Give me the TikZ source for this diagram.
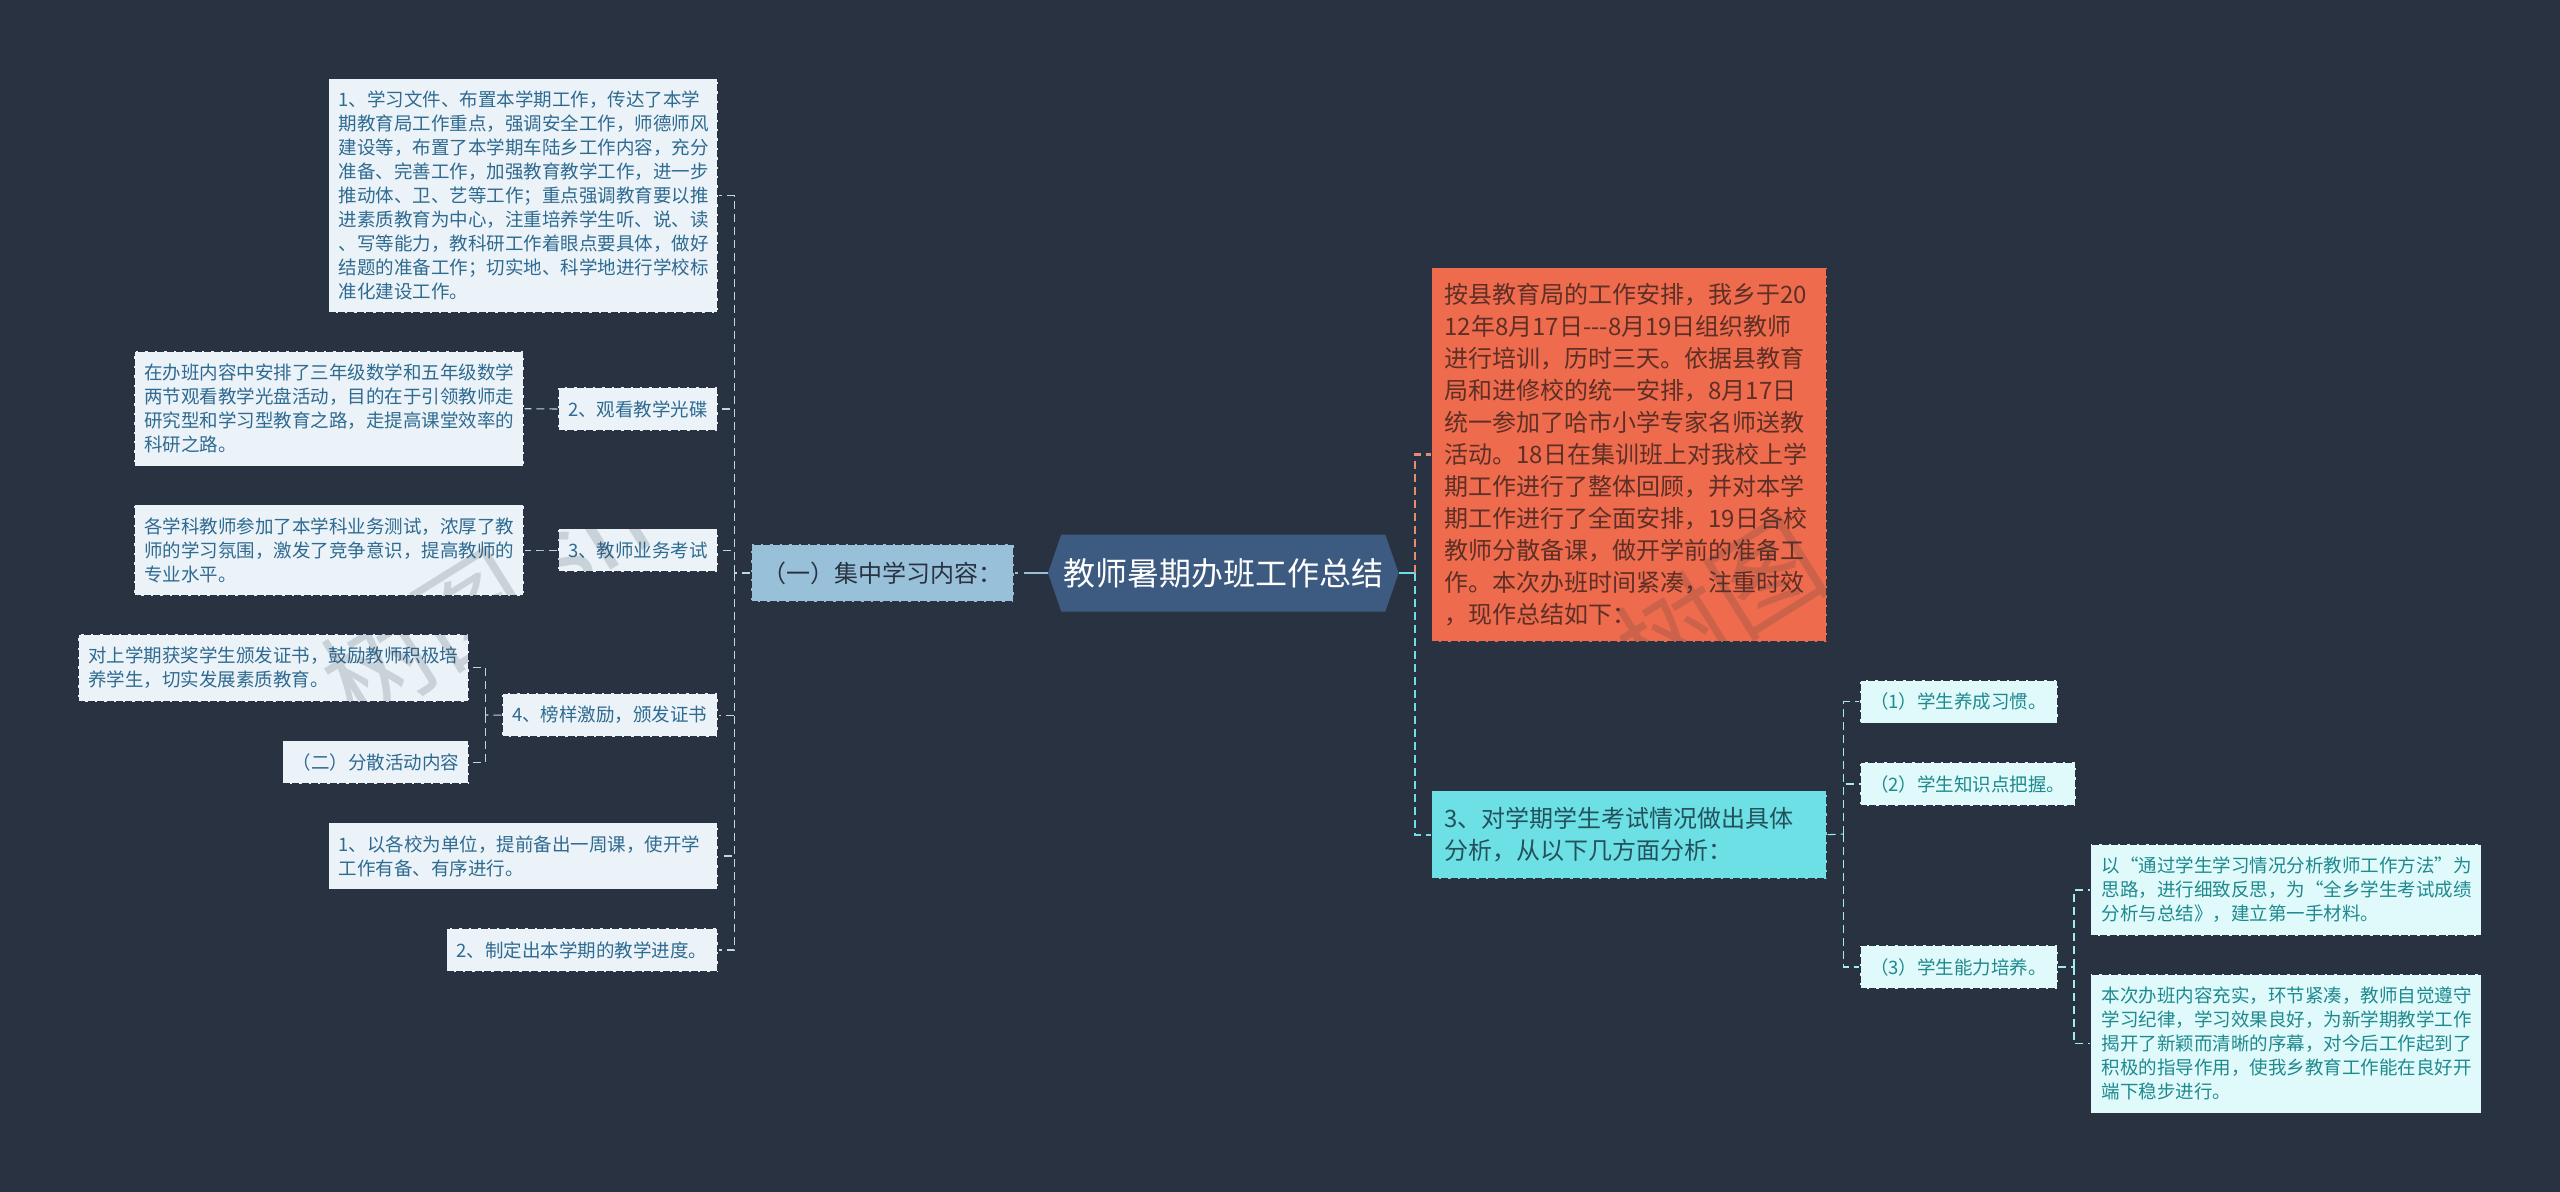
\documentclass[tikz,border=0pt]{standalone}
\usepackage{fontspec}
\usetikzlibrary{shapes.symbols}
\newfontfamily\cjk{Noto Sans CJK SC}
\definecolor{bgc}{HTML}{293241}
\definecolor{navy}{HTML}{3D5A80}
\definecolor{midblue}{HTML}{98C1D9}
\definecolor{pale}{HTML}{EBF3F9}
\definecolor{paletext}{HTML}{2F6A90}
\definecolor{palecy}{HTML}{E0F9FB}
\definecolor{cytext}{HTML}{1E8A8E}
\definecolor{orangeb}{HTML}{EE6C4D}
\definecolor{oranget}{HTML}{5E2F26}
\definecolor{cyanb}{HTML}{6DE0E6}
\definecolor{cyant}{HTML}{24525C}
\definecolor{linel}{HTML}{BBD7E8}
\definecolor{liner}{HTML}{A0ECF0}
\definecolor{lineo}{HTML}{E98B73}
\tikzset{
  boxbase/.style={draw=bgc,line width=0.6pt,dash pattern=on 3.5pt off 1.2pt,inner sep=0pt,align=left},
  smallfont/.style={font=\cjk\fontsize{9.25}{12}\selectfont},
  bigfont/.style={font=\cjk\fontsize{12}{16}\selectfont},
  leafl/.style={boxbase,smallfont,fill=pale,text=paletext},
  leafr/.style={boxbase,smallfont,fill=palecy,text=cytext},
  topl/.style={boxbase,bigfont,fill=midblue,text=bgc},
  topo/.style={boxbase,bigfont,fill=orangeb,text=oranget},
  topc/.style={boxbase,bigfont,fill=cyanb,text=cyant},
  linkl/.style={draw=linel,line width=0.55pt,dash pattern=on 4pt off 2.5pt},
  linkr/.style={draw=liner,line width=0.55pt,dash pattern=on 4pt off 2.5pt},
  trunkc/.style={draw=cyanb,line width=1.2pt,dash pattern=on 4pt off 2.5pt},
  trunko/.style={draw=lineo,line width=1.2pt,dash pattern=on 4pt off 2.5pt},
  mark stem/.style={draw=cyanb,line width=1.2pt},
  stemleft/.style={draw=midblue,line width=1.3pt,dash pattern=on 12pt off 3pt},
  wmark/.style={font=\cjk\fontsize{54}{54}\selectfont,text=bgc,text opacity=0.17,rotate=32,inner sep=0pt},
}
\newcommand{\tbox}[8]{%
  \pgfmathsetmacro\bw{(#6-#4)*0.5}%
  \pgfmathsetmacro\bh{(#7-#5)*0.5}%
  \pgfmathsetmacro\tw{(#6-#4-2*#3)*0.5}%
  \node[#1,minimum width=\bw pt,minimum height=\bh pt,text width=\tw pt] (#2) at ({(#4+#6)/2},{(#5+#7)/2}) {#8};%
}
\begin{document}
\begin{tikzpicture}[x=0.5pt,y=-0.5pt]
\fill[bgc] (0,0) rectangle (2560,1192);
\useasboundingbox (0,0) rectangle (2560,1192);
% centre
\node[signal,signal to=east and west,signal pointer angle=142,fill=navy,text=white,inner sep=0pt,
  minimum width=175.3pt,minimum height=38.5pt,font=\cjk\fontsize{16}{20}\selectfont] (root) at (1223.3,573) {教师暑期办班工作总结};
% level 1
\tbox{topl}{study}{11.5}{751}{544.3}{1014}{601.7}{（一）集中学习内容：}
\tbox{topo}{intro}{12.7}{1431.7}{267.7}{1827}{641.7}{按县教育局的工作安排，我乡于20\\12年8月17日---8月19日组织教师\\进行培训，历时三天。依据县教育\\局和进修校的统一安排，8月17日\\统一参加了哈市小学专家名师送教\\活动。18日在集训班上对我校上学\\期工作进行了整体回顾，并对本学\\期工作进行了全面安排，19日各校\\教师分散备课，做开学前的准备工\\作。本次办班时间紧凑，注重时效\\，现作总结如下：}
\tbox{topc}{exam}{12.7}{1431.7}{790.7}{1827}{878.7}{3、对学期学生考试情况做出具体\\分析，从以下几方面分析：}
% left branch
\tbox{leafl}{a}{10}{328.6}{78.6}{718}{313}{1、学习文件、布置本学期工作，传达了本学\\期教育局工作重点，强调安全工作，师德师风\\建设等，布置了本学期车陆乡工作内容，充分\\准备、完善工作，加强教育教学工作，进一步\\推动体、卫、艺等工作；重点强调教育要以推\\进素质教育为中心，注重培养学生听、说、读\\、写等能力，教科研工作着眼点要具体，做好\\结题的准备工作；切实地、科学地进行学校标\\准化建设工作。}
\tbox{leafl}{b}{10}{558}{387}{718}{431}{2、观看教学光碟}
\tbox{leafl}{bb}{10}{134.4}{351}{524}{466.4}{在办班内容中安排了三年级数学和五年级数学\\两节观看教学光盘活动，目的在于引领教师走\\研究型和学习型教育之路，走提高课堂效率的\\科研之路。}
\tbox{leafl}{c}{10}{558}{528.6}{718}{572}{3、教师业务考试}
\tbox{leafl}{cc}{10}{134.4}{504.6}{524}{596}{各学科教师参加了本学科业务测试，浓厚了教\\师的学习氛围，激发了竞争意识，提高教师的\\专业水平。}
\tbox{leafl}{d}{10}{502}{693.3}{718}{737}{4、榜样激励，颁发证书}
\tbox{leafl}{da}{10}{78.4}{634}{469}{701.7}{对上学期获奖学生颁发证书，鼓励教师积极培\\养学生，切实发展素质教育。}
\tbox{leafl}{db}{10}{282.7}{740.7}{469}{784}{（二）分散活动内容}
\tbox{leafl}{e}{10}{328.6}{822.7}{718}{889.3}{1、以各校为单位，提前备出一周课，使开学\\工作有备、有序进行。}
\tbox{leafl}{f}{10}{446.6}{928.3}{718}{971.7}{2、制定出本学期的教学进度。}
% right branch
\tbox{leafr}{p}{10}{1860}{680.3}{2057.6}{723.3}{（1）学生养成习惯。}
\tbox{leafr}{q}{10}{1860}{762.3}{2076}{805.7}{（2）学生知识点把握。}
\tbox{leafr}{r}{10}{1860}{945}{2057.7}{989}{（3）学生能力培养。}
\tbox{leafr}{ra}{11}{2090.7}{844}{2481.3}{936}{以“通过学生学习情况分析教师工作方法”为\\思路，进行细致反思，为“全乡学生考试成绩\\分析与总结》，建立第一手材料。}
\tbox{leafr}{rb}{11}{2090.7}{974}{2481.3}{1113.3}{本次办班内容充实，环节紧凑，教师自觉遵守\\学习纪律，学习效果良好，为新学期教学工作\\揭开了新颖而清晰的序幕，对今后工作起到了\\积极的指导作用，使我乡教育工作能在良好开\\端下稳步进行。}
% junction points
\coordinate (jl) at (734.5,573);
\coordinate (jr) at (1414.7,573);
\coordinate (jd) at (485.6,715);
\coordinate (je) at (1843.7,834);
\coordinate (jf) at (2074,967);
% connectors
\draw[stemleft] (root.west) -- (study.east);
\draw[mark stem] (root.east) -- (jr);
\draw[trunko] (jr) |- (intro.west);
\draw[trunkc] (jr) |- (exam.west);
\draw[linkl] (study.west) -- (jl);
\foreach \n in {a,b,c,d,e,f} \draw[linkl] (jl) |- (\n.east);
\draw[linkl] (b.west) -- (bb.east);
\draw[linkl] (c.west) -- (cc.east);
\draw[linkl] (d.west) -- (jd);
\draw[linkl] (jd) |- (da.east);
\draw[linkl] (jd) |- (db.east);
\draw[linkr] (exam.east) -- (je);
\foreach \n in {p,q,r} \draw[linkr] (je) |- (\n.west);
\draw[linkr] (r.east) -- (jf);
\draw[linkr] (jf) |- (ra.west);
\draw[linkr] (jf) |- (rb.west);
% watermark
\node[wmark] (wm1) at (485,600) {树图 sh};
\node[wmark] (wm2) at (1720,605) {树图};
\end{tikzpicture}
\end{document}
